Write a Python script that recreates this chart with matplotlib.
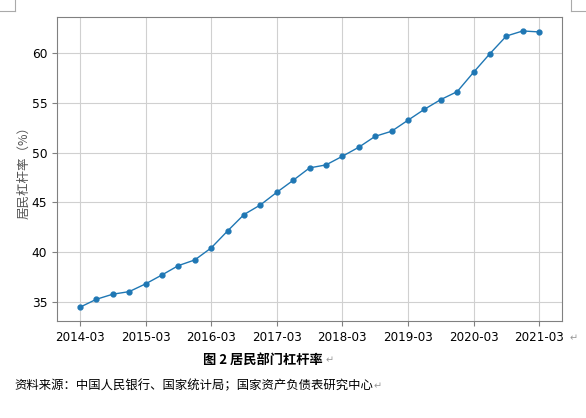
import matplotlib
matplotlib.use("Agg")
import matplotlib.pyplot as plt
from matplotlib.lines import Line2D

plt.rcParams['font.family'] = ['Noto Sans CJK SC', 'DejaVu Sans']

quarters = ['2014-03', '2014-06', '2014-09', '2014-12',
            '2015-03', '2015-06', '2015-09', '2015-12',
            '2016-03', '2016-06', '2016-09', '2016-12',
            '2017-03', '2017-06', '2017-09', '2017-12',
            '2018-03', '2018-06', '2018-09', '2018-12',
            '2019-03', '2019-06', '2019-09', '2019-12',
            '2020-03', '2020-06', '2020-09', '2020-12',
            '2021-03']
leverage = [34.43, 35.23, 35.74, 36.0,
            36.78, 37.68, 38.62, 39.19,
            40.4, 42.11, 43.76, 44.73,
            46.0, 47.21, 48.46, 48.76,
            49.63, 50.54, 51.64, 52.15,
            53.26, 54.36, 55.34, 56.14,
            58.09, 59.97, 61.74, 62.25,
            62.15]
ylabel = '居民杠杆率（%）'
caption = '图 2 居民部门杠杆率'
source = '资料来源：中国人民银行、国家统计局；国家资产负债表研究中心'

fig = plt.figure(figsize=(5.86, 4.18), dpi=100)
ax = fig.add_axes([0.0973, 0.232, 0.862, 0.727])

x = list(range(len(quarters)))
ax.plot(x, leverage, color='#1f77b4', lw=1.0, marker='o', ms=3.5)

ticks = x[::4]
ax.set_xticks(ticks)
ax.set_xticklabels([quarters[i] for i in ticks], fontsize=8.6,
                   family='DejaVu Sans')
ax.set_yticks([35, 40, 45, 50, 55, 60])
ax.tick_params(axis='y', labelsize=8.8)
for lab in ax.get_yticklabels():
    lab.set_family('DejaVu Sans')
ax.set_ylabel(ylabel, fontsize=9, color='#555555', labelpad=1)
ax.grid(True, color='#d0d0d0', lw=0.8)
for s in ax.spines.values():
    s.set_color('#808080')
ax.tick_params(colors='#808080', labelcolor='black', length=3.5)

# caption and source below the chart, as in the document
fig.text(0.448, 0.139, caption, ha='center', va='center', fontsize=9.5,
         fontweight='bold')
fig.text(0.556, 0.139, '↵', ha='left', va='center', fontsize=7,
         color='#999999', family='DejaVu Sans')
fig.text(0.024, 0.077, source, ha='left', va='center', fontsize=8.9)
fig.text(0.638, 0.077, '↵', ha='left', va='center', fontsize=7,
         color='#999999', family='DejaVu Sans')
fig.text(0.972, 0.19, '↵', ha='left', va='center', fontsize=7,
         color='#999999', family='DejaVu Sans')

# page corner marks
mk = dict(color='#aaaaaa', lw=0.8, transform=fig.transFigure)
fig.add_artist(Line2D([0.026, 0.026], [1.0, 0.973], **mk))
fig.add_artist(Line2D([0.0, 0.026], [0.973, 0.973], **mk))
fig.add_artist(Line2D([0.974, 0.974], [1.0, 0.973], **mk))
fig.add_artist(Line2D([0.974, 1.0], [0.973, 0.973], **mk))

fig.savefig('out.png', dpi=100)
